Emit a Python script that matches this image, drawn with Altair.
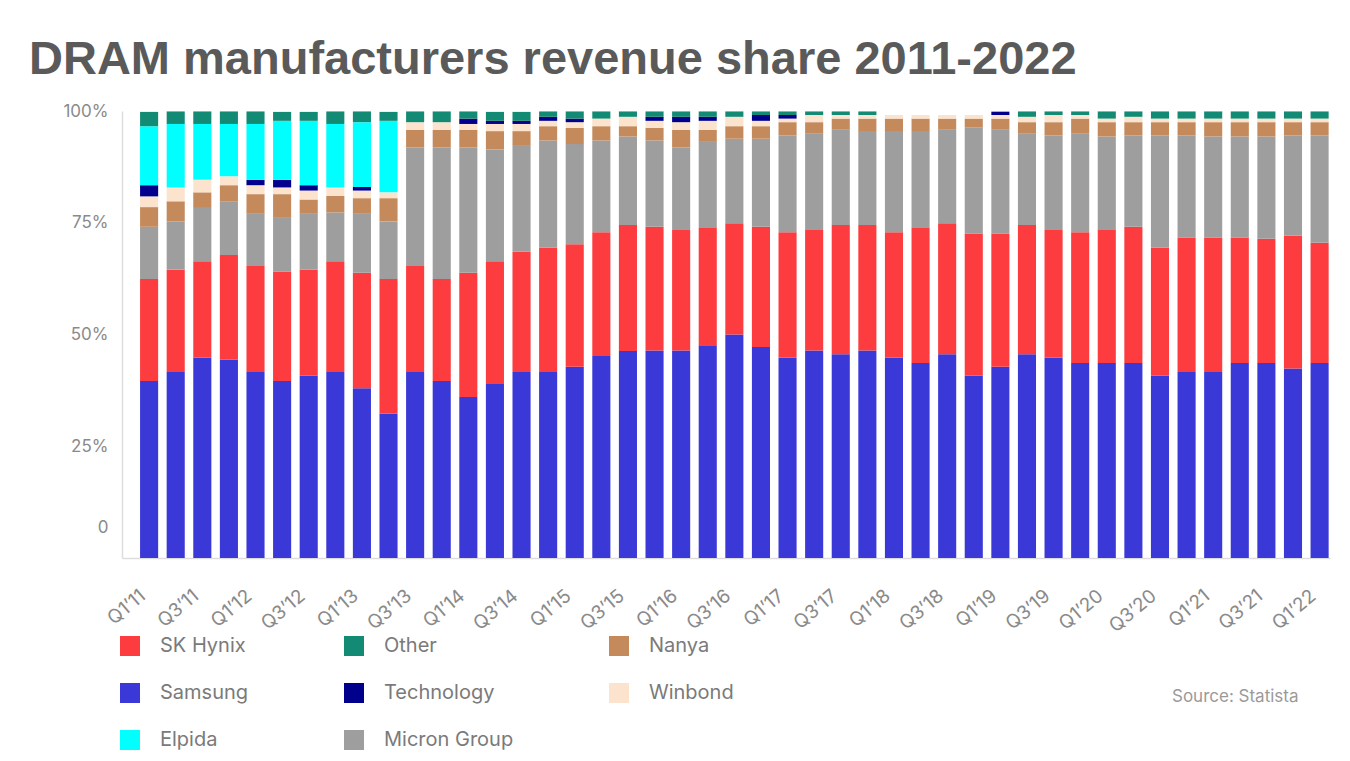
import altair as alt
import pandas as pd

quarters = [f"Q{q}’{y:02d}" for y in range(11, 23) for q in range(1, 5)][:45]
label_quarters = quarters[::2]

samsung = [39.6, 41.6, 44.8, 44.4, 41.6, 39.6, 40.8, 41.6, 38.0, 32.3,
           41.6, 39.6, 36.0, 39.1, 41.6, 41.6, 42.8, 45.2, 46.3, 46.4,
           46.4, 47.6, 50.0, 47.2, 44.8, 46.4, 45.6, 46.4, 44.8, 43.6,
           45.6, 40.8, 42.8, 45.6, 44.8, 43.6, 43.6, 43.6, 40.8, 41.6,
           41.6, 43.6, 43.6, 42.4, 43.6]
sk_hynix = [22.8, 22.9, 21.6, 23.4, 23.7, 24.5, 23.7, 24.8, 25.8, 30.1,
            23.7, 22.8, 27.8, 27.3, 26.9, 27.8, 27.4, 27.7, 28.2, 27.7,
            27.0, 26.2, 24.9, 26.9, 28.1, 27.0, 28.9, 28.1, 28.1, 30.2,
            29.3, 31.8, 29.8, 28.9, 28.6, 29.3, 29.8, 30.5, 28.6, 30.1,
            30.1, 28.1, 27.8, 29.7, 26.9]
micron = [11.7, 10.8, 12.1, 12.0, 11.7, 12.0, 12.5, 10.9, 13.2, 12.9,
          26.5, 29.4, 28.0, 25.0, 23.7, 24.0, 22.4, 20.5, 19.8, 19.3,
          18.4, 19.3, 18.9, 19.7, 21.7, 21.6, 21.3, 21.0, 22.6, 21.7,
          20.9, 23.7, 23.2, 20.5, 21.2, 22.1, 20.9, 20.5, 25.2, 22.9,
          22.6, 22.6, 22.9, 22.5, 24.1]
nanya = [4.4, 4.5, 3.3, 3.6, 4.4, 5.3, 3.2, 3.7, 3.5, 5.2,
         4.0, 4.0, 4.0, 4.1, 3.3, 3.2, 3.6, 3.2, 2.3, 2.8,
         4.0, 2.7, 2.8, 2.8, 2.9, 2.5, 2.5, 2.8, 2.8, 2.8,
         2.5, 2.0, 2.5, 2.5, 2.9, 3.3, 3.2, 2.9, 2.9, 2.9,
         3.2, 3.2, 3.2, 2.9, 2.9]
winbond = [2.4, 3.1, 2.8, 2.0, 2.0, 1.5, 2.0, 1.9, 1.7, 1.3,
           1.7, 1.7, 1.3, 1.6, 1.6, 1.2, 1.3, 1.7, 2.1, 1.6,
           1.7, 2.0, 2.1, 1.2, 0.8, 1.6, 0.8, 0.8, 0.8, 0.8,
           0.8, 0.8, 0.8, 1.2, 1.6, 0.8, 0.8, 1.2, 0.8, 0.8,
           0.8, 0.8, 0.8, 0.8, 0.8]
technology = [2.5, 0, 0, 0, 1.2, 1.7, 1.2, 0, 0.8, 0,
              0, 0, 1.2, 0.7, 0.7, 0.9, 0.8, 0, 0, 0.9,
              1.2, 0.9, 0, 1.3, 0.8, 0, 0, 0, 0, 0,
              0, 0, 0.75, 0, 0, 0, 0, 0, 0, 0,
              0, 0, 0, 0, 0]
elpida = [13.2, 14.2, 12.5, 11.7, 12.5, 13.2, 14.4, 14.2, 14.5, 16.0,
          0, 0, 0, 0, 0, 0, 0, 0, 0, 0,
          0, 0, 0, 0, 0, 0, 0, 0, 0, 0,
          0, 0, 0, 0, 0, 0, 0, 0, 0, 0,
          0, 0, 0, 0, 0]
other = [3.2, 2.8, 2.8, 2.8, 2.8, 2.0, 2.0, 2.8, 2.4, 2.0,
         2.4, 2.4, 1.6, 2.0, 2.0, 1.2, 1.6, 1.6, 1.2, 1.2,
         1.2, 1.2, 1.2, 0.8, 0.8, 0.8, 0.8, 0.8, 0, 0,
         0, 0, 0, 1.2, 0.8, 0.8, 1.6, 1.2, 1.6, 1.6,
         1.6, 1.6, 1.6, 1.6, 1.6]

stack_order = ["Samsung", "SK Hynix", "Micron Group", "Nanya", "Winbond",
               "Technology", "Elpida", "Other"]
series = {"Samsung": samsung, "SK Hynix": sk_hynix, "Micron Group": micron,
          "Nanya": nanya, "Winbond": winbond, "Technology": technology,
          "Elpida": elpida, "Other": other}
# legend fills column by column (3 per column)
legend_order = ["SK Hynix", "Samsung", "Elpida", "Other", "Technology",
                "Micron Group", "Nanya", "Winbond"]
palette = {"SK Hynix": "#fc3c3e", "Other": "#138b74", "Nanya": "#c48a5c",
           "Samsung": "#3b38d8", "Technology": "#00008c", "Winbond": "#fbe3cd",
           "Elpida": "#00ffff", "Micron Group": "#9e9e9e"}

rows = []
for ci, c in enumerate(stack_order):
    for qi, q in enumerate(quarters):
        v = series[c][qi]
        if v > 0:
            rows.append({"quarter": q, "company": c, "share": v, "stack": ci})
df = pd.DataFrame(rows)

label_font = "Inter"

bars = alt.Chart(df).mark_bar().encode(
    x=alt.X("quarter:N", sort=quarters, title=None,
            scale=alt.Scale(paddingInner=0.32, paddingOuter=0.365, align=0.93),
            axis=alt.Axis(values=label_quarters, labelAngle=320, ticks=False,
                          domainColor="#dddddd", domainWidth=1.5,
                          labelFont=label_font, labelFontSize=19,
                          labelColor="#8a8a8a", labelPadding=28,
                          labelOffset=-12)),
    y=alt.Y("share:Q", stack="zero", title=None,
            scale=alt.Scale(domain=[0, 100], nice=False),
            axis=alt.Axis(values=[0, 25, 50, 75, 100],
                          labelExpr="datum.value == 0 ? '0' : datum.value + '%'",
                          grid=False, ticks=False, domainColor="#dddddd",
                          domainWidth=1.5, labelFont=label_font,
                          labelFontSize=17, labelColor="#8a8a8a",
                          labelPadding=14,
                          labelOffset={"condition": {"test": "datum.value == 0", "value": -31},
                                       "value": 0})),
    color=alt.Color("company:N",
                    scale=alt.Scale(domain=legend_order,
                                    range=[palette[c] for c in legend_order]),
                    legend=alt.Legend(title=None, orient="none", legendX=-2,
                                      legendY=525, columns=3, columnPadding=95,
                                      rowPadding=27, symbolType="square",
                                      symbolSize=400, symbolStrokeWidth=0,
                                      symbolOpacity=1, labelFont=label_font,
                                      labelFontSize=20, labelColor="#7a7a7a",
                                      labelOffset=20)),
    order=alt.Order("stack:Q", sort="ascending"),
)

source = alt.Chart(pd.DataFrame({"t": ["Source: Statista"]})).mark_text(
    align="left", baseline="middle", font=label_font, fontSize=17, color="#9a9a9a"
).encode(x=alt.value(1050), y=alt.value(586), text="t:N")

chart = alt.layer(bars, source).properties(
    width=1208, height=447,
    autosize=alt.AutoSizeParams(type="none"),
    padding={"left": 122, "top": 111, "right": 20, "bottom": 203},
    title=alt.TitleParams("DRAM manufacturers revenue share 2011-2022",
                          anchor="start", frame="group", dx=-93, dy=60,
                          font="Liberation Sans", fontSize=47,
                          fontWeight="bold", color="#5a5a5a",
                          baseline="alphabetic", offset=41),
).configure_view(stroke=None)

chart.save("out.html", embed_options={"renderer": "svg", "actions": False})
